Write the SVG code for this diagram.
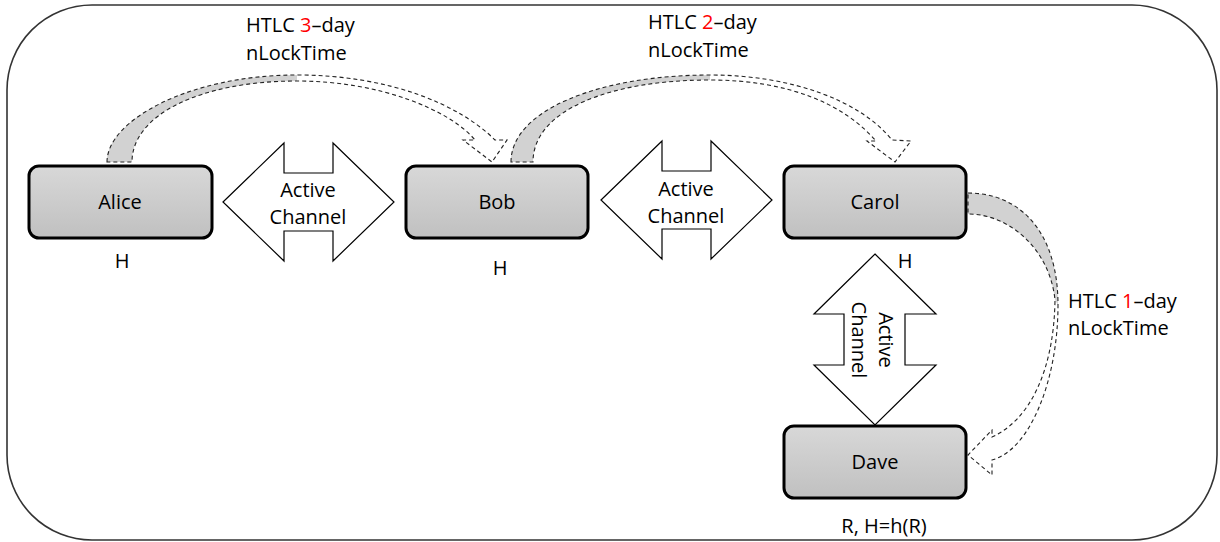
<svg xmlns="http://www.w3.org/2000/svg" width="1220" height="542" viewBox="0 0 1220 542">
  <defs>
    <linearGradient id="nodeFill" x1="0" y1="0" x2="0" y2="1">
      <stop offset="0" stop-color="#d8d8d8"/>
      <stop offset="1" stop-color="#c0c0c0"/>
    </linearGradient>
    <style>
      text { font-family: "Open Sans", "Liberation Sans", sans-serif; font-size: 20px; fill: #000; }
      .mid { text-anchor: middle; }
      .red { fill: #ff0000; }
      .node { fill: url(#nodeFill); stroke: #000; stroke-width: 3; }
      .channel { fill: #fff; stroke: #000; stroke-width: 1.2; stroke-linejoin: miter; }
      .band { fill: #d2d2d2; stroke: none; }
      .outline { fill: none; stroke: #222; stroke-width: 1.1; stroke-dasharray: 4 3; }
      .frame { fill: #fff; stroke: #333; stroke-width: 1.6; }
    </style>
  </defs>

  <!-- outer frame -->
  <rect class="frame" x="7" y="5" width="1210" height="535" rx="85" ry="85"/>

  <!-- HTLC connectors -->
  <g id="connectors">
    <g id="htlc-alice-bob">
      <path class="band" d="M107,162 C107,120 190,75 297,75 L297,81 C200,81 132,115 132,162 Z"/>
      <path class="outline" d="M107,162 C107,120 190,75 297,75 C390,75 460,105 495,140 L507,140 L492,162 L463,140 L475,140 C450,110 380,81 297,81 C200,81 132,115 132,162 Z"/>
    </g>
    <g id="htlc-bob-carol">
      <path class="band" d="M511,162 C511,110 600,75 710,75 L710,80 C610,80 533,110 533,162 Z"/>
      <path class="outline" d="M511,162 C511,110 600,75 710,75 C790,75 860,100 892,140 L911,141 L895,162 L867,141 L876,141 C845,105 790,80 710,80 C610,80 533,110 533,162 Z"/>
    </g>
    <g id="htlc-carol-dave">
      <path class="band" d="M968,193 C1020,193 1058,232 1058,305 L1055,300 C1050,250 1010,214 968,214 Z"/>
      <path class="outline" d="M968,193 C1020,193 1058,232 1058,305 C1058,380 1030,450 992,460 L992,475 L968,455 L992,430 L992,437 C1030,420 1054,370 1055,300 C1050,250 1010,214 968,214 Z"/>
    </g>
  </g>

  <!-- active channels -->
  <g id="channel-alice-bob">
    <polygon class="channel" points="223,202 284,143 284,173 333,173 333,143 394,202 333,261 333,231 284,231 284,261"/>
    <text class="mid" x="308" y="197">Active</text>
    <text class="mid" x="308" y="224">Channel</text>
  </g>
  <g id="channel-bob-carol">
    <polygon class="channel" points="601,200 662,141 662,171 711,171 711,141 772,200 711,259 711,229 662,229 662,259"/>
    <text class="mid" x="686" y="196">Active</text>
    <text class="mid" x="686" y="223">Channel</text>
  </g>
  <g id="channel-carol-dave">
    <polygon class="channel" points="875,254 936,314 905,314 905,365 936,365 875,425 814,365 844,365 844,314 814,314"/>
    <text class="mid" transform="translate(879,340) rotate(90)">Active</text>
    <text class="mid" transform="translate(852,340) rotate(90)">Channel</text>
  </g>

  <!-- nodes -->
  <g id="alice">
    <rect class="node" x="29" y="166" width="183" height="72" rx="10"/>
    <text class="mid" x="120" y="209">Alice</text>
    <text class="mid" x="122" y="268">H</text>
  </g>
  <g id="bob">
    <rect class="node" x="406" y="166" width="182" height="72" rx="10"/>
    <text class="mid" x="497" y="209">Bob</text>
    <text class="mid" x="500" y="275">H</text>
  </g>
  <g id="carol">
    <rect class="node" x="784" y="166" width="182" height="72" rx="10"/>
    <text class="mid" x="875" y="209">Carol</text>
    <text class="mid" x="905" y="268">H</text>
  </g>
  <g id="dave">
    <rect class="node" x="784" y="426" width="182" height="72" rx="10"/>
    <text class="mid" x="875" y="469">Dave</text>
    <text class="mid" x="884" y="533">R, H=h(R)</text>
  </g>

  <!-- HTLC labels -->
  <g id="label-htlc3">
    <text x="246" y="32">HTLC <tspan class="red">3</tspan>–day</text>
    <text x="246" y="60">nLockTime</text>
  </g>
  <g id="label-htlc2">
    <text x="648" y="29">HTLC <tspan class="red">2</tspan>–day</text>
    <text x="648" y="57">nLockTime</text>
  </g>
  <g id="label-htlc1">
    <text x="1068" y="308">HTLC <tspan class="red">1</tspan>–day</text>
    <text x="1068" y="335">nLockTime</text>
  </g>
</svg>
